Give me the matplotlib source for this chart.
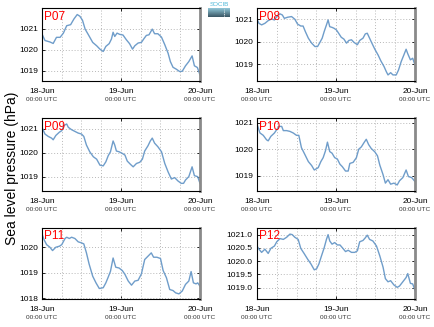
import numpy as np
import matplotlib
matplotlib.use("Agg")
import matplotlib.pyplot as plt
from matplotlib.ticker import MultipleLocator, FixedLocator

# ---------------- data (hours since 18-Jun 00:00 UTC, pressure hPa) ----------------
p07_h = [0, 0.9, 2.4, 3.4, 4.4, 5.5, 6.5, 7.5, 8.7, 9.7, 10.7, 11.5, 12.3, 13.1, 14.1, 15.4, 16.6, 17.6, 18.6, 19.4,
         20.4, 21.1, 21.6, 22.1, 22.8, 23.6, 24.6, 25.6, 26.6, 27.5, 28.2, 29.2, 30.2, 30.9, 31.7, 32.5, 33.5, 34.2,
         35.2, 36.3, 37.3, 38.3, 39.0, 39.8, 40.8, 41.8, 42.6, 43.6, 44.6, 45.6, 46.3, 47.2, 48]
p07_v = [1020.75, 1020.44, 1020.37, 1020.30, 1020.59, 1020.59, 1020.79, 1021.14, 1021.19, 1021.46, 1021.67, 1021.59,
         1021.40, 1020.98, 1020.71, 1020.35, 1020.19, 1020.03, 1019.92, 1020.16, 1020.29, 1020.51, 1020.83, 1020.63,
         1020.79, 1020.73, 1020.70, 1020.48, 1020.29, 1020.03, 1020.19, 1020.32, 1020.35, 1020.51, 1020.68, 1020.71,
         1020.98, 1020.76, 1020.76, 1020.60, 1020.24, 1019.84, 1019.44, 1019.17, 1019.08, 1018.97, 1018.98, 1019.24,
         1019.44, 1019.71, 1019.24, 1019.16, 1018.81]

p08_h = [0, 0.6, 1.4, 2.4, 3.4, 4.4, 5.3, 6.0, 7.0, 7.7, 8.3, 9.3, 10.5, 11.5, 12.3, 13.3, 14.0, 14.7, 15.6, 16.6,
         17.6, 18.4, 19.1, 19.8, 20.4, 21.1, 21.6, 22.1, 22.8, 23.4, 24.1, 24.8, 25.6, 26.4, 27.2, 27.9, 28.7, 29.5,
         30.5, 31.2, 32.2, 32.9, 33.5, 34.2, 34.9, 35.8, 36.8, 37.6, 38.6, 39.3, 39.8, 40.6, 41.3, 42.3, 43.0, 43.8,
         44.6, 45.3, 45.8, 46.6, 47.3, 48]
p08_v = [1021.00, 1020.82, 1020.75, 1020.82, 1020.94, 1021.01, 1020.97, 1021.12, 1021.24, 1021.19, 1021.04, 1021.09,
         1021.12, 1021.00, 1020.79, 1020.70, 1020.70, 1020.45, 1020.16, 1019.94, 1019.79, 1019.79, 1019.97, 1020.16,
         1020.45, 1020.75, 1020.97, 1020.67, 1020.64, 1020.60, 1020.53, 1020.38, 1020.20, 1020.12, 1019.94, 1020.06,
         1020.09, 1019.97, 1019.87, 1020.06, 1020.16, 1020.35, 1020.38, 1020.16, 1019.94, 1019.67, 1019.41, 1019.16,
         1018.90, 1018.67, 1018.53, 1018.63, 1018.53, 1018.53, 1018.75, 1019.12, 1019.41, 1019.67, 1019.47, 1019.20,
         1019.27, 1018.97]

p09_h = [0, 0.9, 1.9, 2.9, 3.4, 4.2, 5.3, 6.0, 6.7, 7.5, 8.0, 9.0, 10.0, 11.0, 12.0, 12.7, 13.5, 14.5, 15.6, 16.6,
         17.6, 18.6, 19.4, 20.1, 20.8, 21.6, 22.1, 22.6, 23.4, 24.4, 25.2, 25.9, 26.9, 27.7, 28.7, 29.7, 30.5, 31.2,
         32.2, 32.9, 33.5, 34.2, 35.2, 36.3, 37.3, 38.3, 39.3, 40.3, 41.3, 42.3, 43.0, 43.6, 44.6, 45.6, 46.3, 47.3, 48]
p09_v = [1021.06, 1020.78, 1020.68, 1020.61, 1020.54, 1020.72, 1020.86, 1020.92, 1021.14, 1021.20, 1021.06, 1020.96,
         1020.89, 1020.82, 1020.78, 1020.68, 1020.32, 1020.04, 1019.83, 1019.73, 1019.48, 1019.45, 1019.62, 1019.87,
         1020.04, 1020.49, 1020.32, 1020.07, 1020.04, 1019.97, 1019.90, 1019.65, 1019.51, 1019.41, 1019.55, 1019.60,
         1019.73, 1020.07, 1020.29, 1020.49, 1020.61, 1020.40, 1020.25, 1020.04, 1019.55, 1019.20, 1018.90, 1018.96,
         1018.82, 1018.72, 1018.72, 1018.86, 1019.00, 1019.41, 1019.04, 1019.00, 1018.72]

p10_h = [0, 0.9, 1.9, 2.9, 3.4, 4.2, 5.3, 6.0, 6.7, 7.5, 8.0, 9.0, 10.0, 11.0, 12.0, 12.7, 13.5, 14.5, 15.6, 16.6,
         17.4, 18.6, 19.4, 20.1, 20.8, 21.4, 22.1, 22.8, 23.6, 24.4, 25.2, 25.9, 26.9, 27.7, 28.2, 29.2, 30.2, 30.9,
         31.7, 32.5, 33.2, 33.9, 34.7, 35.8, 36.6, 37.3, 38.3, 39.0, 39.8, 40.6, 41.6, 42.6, 43.3, 44.3, 45.3, 46.0,
         47.0, 48]
p10_v = [1020.96, 1020.62, 1020.53, 1020.36, 1020.32, 1020.49, 1020.62, 1020.75, 1020.87, 1020.87, 1020.71, 1020.71,
         1020.68, 1020.62, 1020.53, 1020.53, 1020.06, 1019.81, 1019.53, 1019.38, 1019.21, 1019.30, 1019.53, 1019.68,
         1019.94, 1020.27, 1019.91, 1019.85, 1019.68, 1019.63, 1019.43, 1019.34, 1019.17, 1019.17, 1019.46, 1019.50,
         1019.68, 1020.00, 1020.09, 1020.25, 1020.38, 1020.18, 1020.03, 1019.90, 1019.75, 1019.40, 1019.03, 1018.71,
         1018.84, 1018.67, 1018.71, 1018.64, 1018.80, 1018.92, 1019.21, 1018.96, 1018.92, 1018.77]

p11_h = [0, 0.6, 1.4, 2.4, 3.2, 4.2, 5.3, 6.0, 7.0, 7.5, 8.3, 9.0, 10.0, 11.0, 12.0, 12.7, 13.5, 14.3, 15.4, 16.4,
         17.4, 18.6, 19.4, 20.1, 20.8, 21.6, 22.4, 23.4, 24.4, 25.2, 26.2, 27.2, 28.2, 29.2, 30.2, 31.2, 32.2, 33.2,
         33.9, 34.9, 36.0, 36.8, 37.8, 38.8, 39.8, 40.6, 41.6, 42.6, 43.6, 44.6, 45.3, 46.0, 46.8, 47.3, 48]
p11_v = [1020.52, 1020.30, 1020.10, 1020.00, 1019.87, 1020.00, 1020.04, 1020.10, 1020.34, 1020.39, 1020.34, 1020.39,
         1020.34, 1020.21, 1020.17, 1020.13, 1019.78, 1019.35, 1018.87, 1018.61, 1018.39, 1018.42, 1018.61, 1018.83,
         1019.06, 1019.58, 1019.22, 1019.19, 1019.09, 1018.94, 1018.68, 1018.52, 1018.68, 1018.71, 1018.96, 1019.52,
         1019.65, 1019.78, 1019.61, 1019.61, 1019.56, 1019.09, 1018.81, 1018.35, 1018.31, 1018.22, 1018.18, 1018.29,
         1018.55, 1018.68, 1019.05, 1018.61, 1018.57, 1018.61, 1018.48]

p12_h = [0, 0.6, 1.4, 2.4, 3.4, 4.2, 5.3, 6.0, 7.0, 8.0, 9.0, 10.0, 10.7, 11.5, 12.5, 13.3, 14.3, 15.4, 16.4, 17.4,
         18.1, 18.8, 19.6, 20.4, 21.1, 21.6, 22.1, 22.8, 23.6, 24.4, 25.2, 25.9, 26.9, 27.7, 28.7, 29.7, 30.5, 31.2,
         32.2, 32.9, 33.5, 34.2, 35.2, 36.3, 37.3, 38.3, 39.0, 39.8, 40.6, 41.6, 42.6, 43.3, 44.3, 45.3, 45.8, 46.6,
         47.3, 48]
p12_v = [1020.57, 1020.45, 1020.33, 1020.45, 1020.29, 1020.48, 1020.57, 1020.73, 1020.85, 1020.82, 1020.90, 1021.02,
         1021.00, 1020.90, 1020.82, 1020.48, 1020.29, 1020.07, 1019.89, 1019.67, 1019.71, 1019.89, 1020.20, 1020.50,
         1020.82, 1021.00, 1020.76, 1020.64, 1020.70, 1020.61, 1020.61, 1020.51, 1020.36, 1020.41, 1020.33, 1020.33,
         1020.39, 1020.73, 1020.78, 1020.88, 1020.98, 1020.82, 1020.76, 1020.57, 1020.20, 1019.77, 1019.34, 1019.22,
         1019.26, 1019.10, 1019.01, 1019.06, 1019.22, 1019.38, 1019.53, 1019.16, 1019.14, 1018.89]

station_names = ["P07", "P08", "P09", "P10", "P11", "P12"]
date_labels = ["18-Jun", "19-Jun", "20-Jun"]
date_hours = [0, 24, 48]
time_label = "00:00 UTC"
ylims = [(1018.52, 1021.98), (1018.26, 1021.50), (1018.40, 1021.45),
         (1018.41, 1021.19), (1017.98, 1020.75), (1018.57, 1021.25)]
ytick_steps = [1, 1, 1, 1, 1, 0.5]

series = [(p07_h, p07_v), (p08_h, p08_v), (p09_h, p09_v),
          (p10_h, p10_v), (p11_h, p11_v), (p12_h, p12_v)]

# ---------------- figure ----------------
plt.rcParams['font.family'] = ['Liberation Sans', 'DejaVu Sans']
W, H = 435, 327
fig = plt.figure(figsize=(W / 100, H / 100), dpi=100)

lefts = [42, 257]
tops = [8, 118, 228]
bottoms = [81, 191, 299]
aw = 158

line_color = "#6f9dca"

for i, (name, (hh, vv)) in enumerate(zip(station_names, series)):
    r, c = divmod(i, 2)
    x0 = lefts[c]
    ax = fig.add_axes([x0 / W, 1 - bottoms[r] / H, aw / W, (bottoms[r] - tops[r]) / H])
    ax.plot(hh, vv, color=line_color, lw=1.0)
    ax.set_xlim(0, 48)
    ax.set_ylim(*ylims[i])
    ax.yaxis.set_major_locator(MultipleLocator(ytick_steps[i]))
    ax.xaxis.set_major_locator(FixedLocator(date_hours))
    ax.xaxis.set_minor_locator(MultipleLocator(6))
    ax.set_xticklabels(date_labels)
    ax.grid(True, which='both', axis='x', color='#b8b8b8', ls=(0, (1, 2)), lw=0.7)
    ax.grid(True, which='major', axis='y', color='#b8b8b8', ls=(0, (1, 2)), lw=0.7)
    ax.tick_params(axis='both', which='major', direction='in', length=2, width=0.6,
                   labelsize=6, top=True, right=True, pad=3)
    ax.tick_params(axis='x', which='minor', length=0)
    ax.tick_params(axis='x', which='major', pad=5)
    for s in ['left', 'top', 'bottom']:
        ax.spines[s].set_linewidth(0.8)
        ax.spines[s].set_color('black')
    ax.spines['right'].set_color('#8a8a8a')
    ax.spines['right'].set_linewidth(2.0)
    ax.text(0.015, 0.965, name, transform=ax.transAxes, color='red', fontsize=8.5,
            ha='left', va='top')
    for dh in date_hours:
        ax.annotate(time_label, xy=(dh, 0), xycoords=('data', 'axes fraction'),
                    xytext=(0, -11.5), textcoords='offset points', ha='center', va='top',
                    fontsize=4.6, color='#333333')

fig.text(12 / W, 1 - 168 / H, "Sea level pressure (hPa)", rotation=90,
         ha='center', va='center', fontsize=10)

# logo
lax = fig.add_axes([208 / W, 1 - 17 / H, 22 / W, 9 / H])
grad = np.linspace(0, 1, 20).reshape(-1, 1)
lax.imshow(grad, aspect='auto', cmap=matplotlib.colors.LinearSegmentedColormap.from_list(
    'g', ['#8fc5d6', '#3b5866']), extent=(0, 1, 0, 1))
lax.plot([0.75, 0.75], [0.1, 0.9], color='white', lw=0.6, ls=(0, (1, 1)))
lax.set_axis_off()
fig.text(219 / W, 1 - 5 / H, "SOCIB", color='#4db8d8', fontsize=4.5, ha='center', va='center')

fig.savefig("out.png", dpi=100)
